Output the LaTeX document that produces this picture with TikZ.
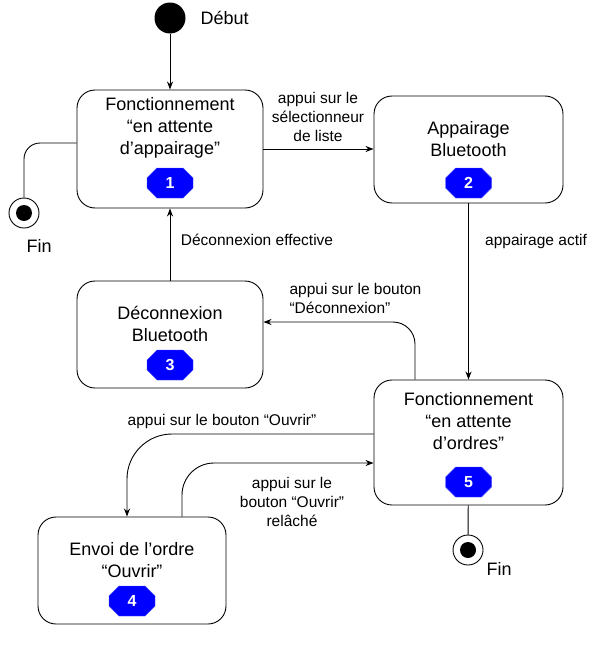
\documentclass[tikz,border=0pt]{standalone}
\usepackage{fontspec}
\setmainfont{Liberation Sans}
\usetikzlibrary{arrows.meta,shapes.misc}
\tikzset{
  state/.style={draw, line width=0.9pt, rounded corners=18pt, fill=white},
  statetxt/.style={align=center, font=\fontsize{18}{22}\selectfont},
  badge/.style={chamfered rectangle, chamfered rectangle xsep=8pt, chamfered rectangle ysep=8pt,
    fill=blue, draw=blue!70!white, text=white, inner sep=0pt, minimum width=46pt, minimum height=30pt,
    font=\fontsize{16}{16}\selectfont\bfseries},
  lbl/.style={align=center, font=\fontsize{15.5}{19}\selectfont},
  biglbl/.style={font=\fontsize{18}{22}\selectfont},
  arr/.style={line width=0.9pt, -{Stealth[length=8pt,width=6pt,inset=2.5pt]}},
  ln/.style={line width=0.9pt},
}
\begin{document}
\begin{tikzpicture}[x=1pt,y=-1pt]
\useasboundingbox (0,0) rectangle (599,645);
% debut
\node[circle, fill, minimum size=31pt, inner sep=0pt] (start) at (170,18){};
\node[biglbl, anchor=west] (startlbl) at (197,18){Début};
% etats
\node[state, minimum width=186pt, minimum height=118pt] (s1) at (170,149){};
\node[statetxt] (t1) at (170,128){Fonctionnement\\“en attente\\d’appairage”};
\node[badge] (b1) at (170,183){1};
\node[state, minimum width=189pt, minimum height=107pt] (s2) at (468.5,149.5){};
\node[statetxt] (t2) at (468.5,139.5){Appairage\\Bluetooth};
\node[badge] (b2) at (468.5,183){2};
\node[state, minimum width=186pt, minimum height=107pt] (s3) at (170,334.5){};
\node[statetxt] (t3) at (170,324){Déconnexion\\Bluetooth};
\node[badge] (b3) at (170,365){3};
\node[state, minimum width=189pt, minimum height=125pt] (s5) at (468.5,442.5){};
\node[statetxt] (t5) at (468.5,421){Fonctionnement\\“en attente\\d’ordres”};
\node[badge] (b5) at (468.5,482){5};
\node[state, minimum width=188pt, minimum height=107pt] (s4) at (132,570.5){};
\node[statetxt] (t4) at (132,560.5){Envoi de l’ordre\\“Ouvrir”};
\node[badge] (b4) at (132,601){4};
% fins
\node[circle, draw, line width=0.9pt, minimum size=30pt, inner sep=0pt] (fin1) at (24,213){};
\node[circle, fill, minimum size=16pt, inner sep=0pt] (fin1in) at (fin1){};
\node[biglbl, anchor=west] (fin1lbl) at (23,246){Fin};
\node[circle, draw, line width=0.9pt, minimum size=30pt, inner sep=0pt] (fin2) at (468,550){};
\node[circle, fill, minimum size=16pt, inner sep=0pt] (fin2in) at (fin2){};
\node[biglbl, anchor=west] (fin2lbl) at (483,569){Fin};
% transitions
\draw[arr] (start) -- (s1);
\draw[ln, rounded corners=16pt] ([yshift=6pt]s1.west) -| (fin1.north);
\draw[arr] (s1.east) -- (s2.west |- s1.east);
\node[lbl] (l12) at (318,117){appui sur le\\sélectionneur\\de liste};
\draw[arr] (s2) -- (s5);
\node[lbl] (l25) at (536,241){appairage actif};
\draw[arr] (s3) -- (s1);
\node[lbl] (l31) at (257,240){Déconnexion effective};
\draw[arr, rounded corners=22pt] ([xshift=-53.5pt]s5.north) |- ([yshift=12.5pt]s3.east);
\node[lbl, align=left, anchor=west] (l53) at (286,298){appui sur le bouton\\“Déconnexion”};
\draw[arr, rounded corners=45pt] ([yshift=8.5pt]s5.west) -| ([xshift=-5pt]s4.north);
\node[lbl] (l54) at (222,421){appui sur le bouton “Ouvrir”};
\draw[arr, rounded corners=32pt] ([xshift=50pt]s4.north) |- ([yshift=-20.5pt]s5.west);
\node[lbl] (l45) at (292,502){appui sur le\\bouton “Ouvrir”\\relâché};
\draw[ln] (s5) -- (fin2);
\end{tikzpicture}
\end{document}
